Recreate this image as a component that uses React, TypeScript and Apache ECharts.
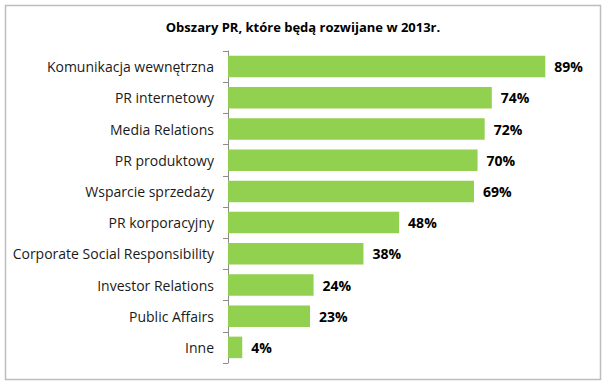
import React, { useEffect, useRef } from "react";
import * as echarts from "echarts";

const categories = [
  "Komunikacja wewnętrzna",
  "PR internetowy",
  "Media Relations",
  "PR produktowy",
  "Wsparcie sprzedaży",
  "PR korporacyjny",
  "Corporate Social Responsibility",
  "Investor Relations",
  "Public Affairs",
  "Inne",
];
const values = [89, 74, 72, 70, 69, 48, 38, 24, 23, 4];
const title = "Obszary PR, które będą rozwijane w 2013r.";

export default function App() {
  const ref = useRef<HTMLDivElement>(null);
  useEffect(() => {
    document.body.style.margin = "0";
    const chart = echarts.init(ref.current!, undefined, { renderer: "svg" });
    const font = "'Open Sans', 'Noto Sans', sans-serif";
    chart.setOption({
      animation: false,
      title: {
        text: title,
        left: "center",
        top: 15,
        textStyle: { fontFamily: font, fontSize: 13, fontWeight: "bold", color: "#000" },
      },
      graphic: [
        {
          type: "rect",
          shape: { x: 5.5, y: 5.5, width: 595, height: 374 },
          style: { fill: "none", stroke: "#bdbdbd", lineWidth: 1.5 },
          silent: true,
        },
      ],
      grid: { left: 228, right: 21.5, top: 51, bottom: 22, containLabel: false },
      xAxis: {
        type: "value",
        min: 0,
        max: 100,
        show: false,
      },
      yAxis: {
        type: "category",
        data: categories,
        inverse: true,
        axisLine: { show: true, lineStyle: { color: "#8c8c8c", width: 1 } },
        axisTick: { show: true, length: 5, lineStyle: { color: "#8c8c8c" } },
        axisLabel: { fontFamily: font, fontSize: 14, color: "#1a1a1a", margin: 14 },
        splitLine: { show: false },
      },
      series: [
        {
          type: "bar",
          data: values,
          barCategoryGap: "31%",
          itemStyle: { color: "#92D050" },
          label: {
            show: true,
            position: "right",
            distance: 9,
            formatter: "{c}%",
            fontFamily: font,
            fontSize: 14,
            fontWeight: "bold",
            color: "#000",
          },
        },
      ],
    });
    return () => chart.dispose();
  }, []);
  return <div ref={ref} style={{ width: 606, height: 385 }} />;
}
